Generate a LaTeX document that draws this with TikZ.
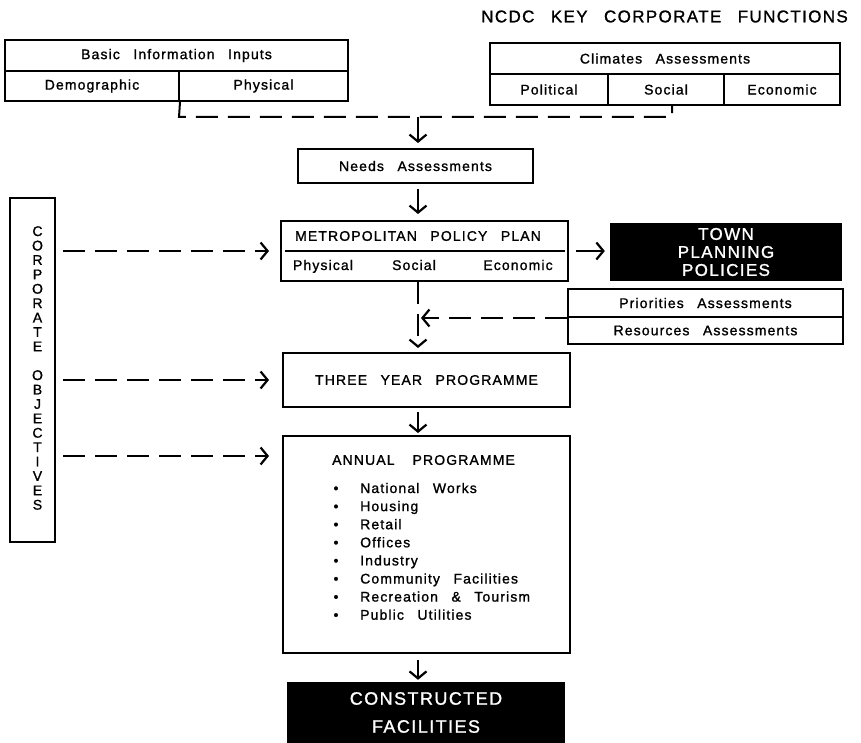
\documentclass[tikz,border=0pt]{standalone}
\usepackage{fontspec}
\setmainfont{Liberation Sans}[LetterSpace=8,WordSpace=2.7,FakeBold=1.2]
\usetikzlibrary{arrows.meta}
\begin{document}
\begin{tikzpicture}[x=1pt,y=-1pt,
  every node/.style={font=\fontsize{14}{16}\selectfont},
  box/.style={draw=black, line width=2pt, rectangle, inner sep=0pt, align=center},
  blackbox/.style={fill=black, text=white, rectangle, inner sep=0pt, align=center},
  lbl/.style={inner sep=0pt},
  tip/.style={-{Straight Barb[length=7pt,width=17pt,line width=2.2pt]}},
  arr/.style={line width=2pt, tip},
  dashln/.style={line width=2pt, dash pattern=on 22pt off 10pt},
  darr/.style={dashln, tip}]
\fill[white] (0,0) rectangle (861,743);
\useasboundingbox (0,0) rectangle (861,743);

% title
\node[lbl, anchor=east, font=\fontsize{17}{20}\selectfont] (title) at (848,16.5) {NCDC KEY CORPORATE FUNCTIONS};

% basic information inputs
\node[box, minimum width=343pt, minimum height=31pt] (basic) at (176.5,55.5) {Basic Information Inputs};
\node[box, minimum width=174pt, minimum height=30pt] (demo) at (92,86) {Demographic};
\node[box, minimum width=169pt, minimum height=30pt] (phys) at (263.5,86) {Physical};

% climates assessments
\node[box, minimum width=350pt, minimum height=31pt] (clim) at (665,58.5) {Climates Assessments};
\node[box, minimum width=118pt, minimum height=31pt] (pol) at (549,89.5) {Political};
\node[box, minimum width=116pt, minimum height=31pt] (soc) at (666,89.5) {Social};
\node[box, minimum width=116pt, minimum height=31pt] (eco) at (782,89.5) {Economic};

% needs
\node[box, minimum width=235pt, minimum height=34pt] (needs) at (415.5,166) {Needs Assessments};

% metropolitan policy plan
\node[box, minimum width=287pt, minimum height=60pt] (metro) at (424.5,251) {};
\node[lbl] (metroT) at (418,236) {METROPOLITAN POLICY PLAN};
\node[lbl, anchor=base] (mphys) at (323,270) {Physical};
\node[lbl, anchor=base] (msoc) at (414,270) {Social};
\node[lbl, anchor=base] (meco) at (518,270) {Economic};
\draw[line width=1.6pt] ([xshift=5pt]metro.west) -- ([xshift=-4pt]metro.east);

% town planning policies
\node[blackbox, minimum width=232pt, minimum height=58pt, font=\fontsize{17}{18}\selectfont] (town) at (726,252) {TOWN\\PLANNING\\POLICIES};

% priorities / resources
\node[box, minimum width=275pt, minimum height=28pt] (prio) at (705.5,303) {Priorities Assessments};
\node[box, minimum width=275pt, minimum height=27pt] (res) at (705.5,330.5) {Resources Assessments};

% corporate objectives
\node[box, minimum width=45pt, minimum height=344pt] (corp) at (32.5,370) {};
\node[lbl, align=center, font=\fontsize{14}{14.4}\selectfont] (corpT) at (37.5,368)
  {C\\O\\R\\P\\O\\R\\A\\T\\E\\[14.4pt]O\\B\\J\\E\\C\\T\\I\\V\\E\\S};

% three year programme
\node[box, minimum width=287pt, minimum height=54pt] (three) at (426.5,380) {THREE YEAR PROGRAMME};

% annual programme
\node[box, minimum width=287pt, minimum height=217pt] (annual) at (426.5,544.5) {};
\node[lbl, anchor=west] (annT) at (332,460) {ANNUAL\hspace{18pt}PROGRAMME};
\foreach \t [count=\i from 0] in {National Works, Housing, Retail, Offices, Industry, Community Facilities, Recreation \& Tourism, Public Utilities}{
  \node[lbl, anchor=base] (bul\i) at (336,{493+18.1*\i}) {\textbullet};
  \node[lbl, anchor=base west] (item\i) at (360,{493+18.1*\i}) {\t};
}

% constructed facilities
\node[blackbox, minimum width=278pt, minimum height=61pt, font=\fontsize{18}{28}\selectfont] (cons) at (426,712.5) {CONSTRUCTED\\FACILITIES};

% connectors
\coordinate (col) at (418,0);
\coordinate (jl) at (179,117);
\coordinate (jr) at (672,117);
\coordinate (jm) at (418,117);
\draw[dashln] (demo.south east) -- (jl) -- (jr) -- (jr |- soc.south);
\draw[arr, shorten >=5pt] (jm) -- (jm |- needs.north);
\draw[arr, shorten <=5pt, shorten >=6pt] (col |- needs.south) -- (col |- metro.north);
\draw[darr, shorten >=4pt] (col |- metro.south) -- (col |- three.north);
\draw[darr, shorten >=3pt] (prio.south west) -- (col |- prio.south west);
\draw[arr, shorten <=7pt, shorten >=5pt] (metro.east) -- (metro.east -| town.west);
\draw[arr, shorten <=4pt, shorten >=2pt] (col |- three.south) -- (col |- annual.north);
\draw[arr, shorten <=6pt, shorten >=2pt] (col |- annual.south) -- (col |- cons.north);

\coordinate (aIn) at ([yshift=-21pt]annual.north west);
\draw[darr, shorten <=7pt, shorten >=11pt] (corp.east |- metro.west) -- (metro.west);
\draw[darr, shorten <=7pt, shorten >=13pt] (corp.east |- three.west) -- (three.west);
\draw[darr, shorten <=7pt, shorten >=13pt] (corp.east |- aIn) -- (aIn);
\end{tikzpicture}
\end{document}
